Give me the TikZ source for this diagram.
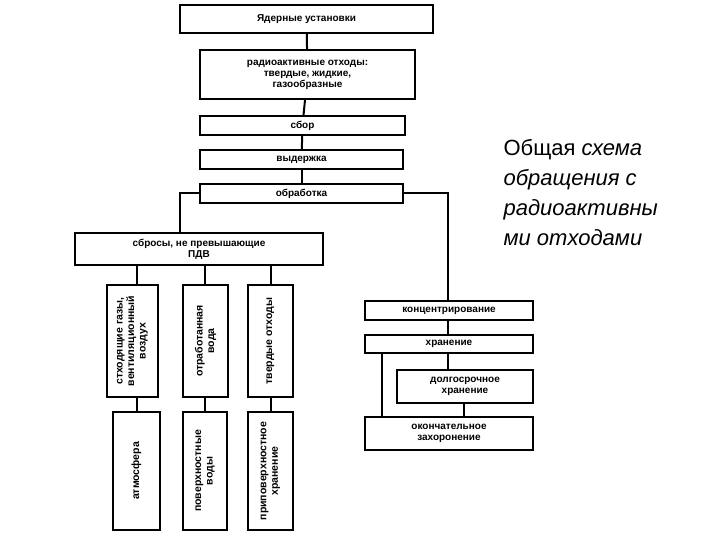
\documentclass[tikz,border=0pt]{standalone}
\usepackage{fontspec}
\setmainfont{Liberation Sans}
\begin{document}
\begin{tikzpicture}[x=1pt,y=-1pt,
  bx/.style={draw,line width=1.6pt,inner sep=0pt,font=\fontsize{10}{11}\selectfont\bfseries,align=center},
  ln/.style={draw,line width=2pt}]
\useasboundingbox (0,0) rectangle (720,540);
\newcommand{\bxat}[6]{\node[bx,minimum width=#3-#1,minimum height=#4-#2] (#5) at ({(#1+#3)/2},{(#2+#4)/2}) {#6};}
\newcommand{\vbxat}[6]{\node[bx,minimum width=#3-#1,minimum height=#4-#2] (#5) at ({(#1+#3)/2},{(#2+#4)/2}) {}; \node[font=\fontsize{10.5}{11.5}\selectfont\bfseries,align=center,rotate=90] (#5t) at (#5) {#6};}
\bxat{180}{5}{433}{33}{a}{Ядерные установки}
\bxat{200}{50}{415}{99}{b}{радиоактивные отходы:\\твердые, жидкие,\\газообразные}
\bxat{200}{116}{405}{135}{c}{сбор}
\bxat{200}{150}{403}{169}{d}{выдержка}
\bxat{200}{184}{403}{203}{e}{обработка}
\bxat{75}{233}{323}{265}{f}{сбросы, не превышающие\\ПДВ}
\vbxat{107}{285}{158}{397}{g1}{стходящие газы,\\вентиляционный\\воздух}
\vbxat{183}{285}{228}{397}{g2}{отработанная\\вода}
\vbxat{248}{285}{293}{397}{g3}{твердые отходы}
\vbxat{113}{412}{160}{530}{h1}{атмосфера}
\vbxat{183}{412}{227}{530}{h2}{поверхностные\\воды}
\vbxat{248}{412}{293}{530}{h3}{приповерхностное\\хранение}
\bxat{365}{301}{533}{320}{k1}{концентрирование}
\bxat{365}{335}{533}{353}{k2}{хранение}
\bxat{397}{370}{533}{403}{k3}{долгосрочное\\хранение}
\bxat{365}{417}{533}{450}{k4}{окончательное\\захоронение}
\draw[ln] (a) -- (b); \draw[ln] (b) -- (c); \draw[ln] (c) -- (d); \draw[ln] (d) -- (e);
\draw[ln] (e.west) -| (f.north -| 180,0);
\draw[ln] (e.east) -| (k1.north -| 448,0);
\draw[ln] (f.south -| 137,0) -- (g1.north -| 137,0);
\draw[ln] (f.south -| 205,0) -- (g2.north -| 205,0);
\draw[ln] (f.south -| 271,0) -- (g3.north -| 271,0);
\draw[ln] (g1.south -| 137,0) -- (h1.north -| 137,0);
\draw[ln] (g2.south -| 205,0) -- (h2.north -| 205,0);
\draw[ln] (g3.south -| 271,0) -- (h3.north -| 271,0);
\draw[ln] (k1.south -| 448,0) -- (k2.north -| 448,0);
\draw[ln] (k2.south -| 448,0) -- (k3.north -| 448,0);
\draw[ln] (k2.south -| 382,0) -- (k4.north -| 382,0);
\draw[ln] (k3.south -| 464,0) -- (k4.north -| 464,0);
\node[anchor=north west,align=left,font=\fontsize{22}{30}\selectfont] (t) at (500,136) {Общая \textit{схема}\\\textit{обращения с}\\\textit{радиоактивны}\\\textit{ми отходами}};
\end{tikzpicture}
\end{document}
